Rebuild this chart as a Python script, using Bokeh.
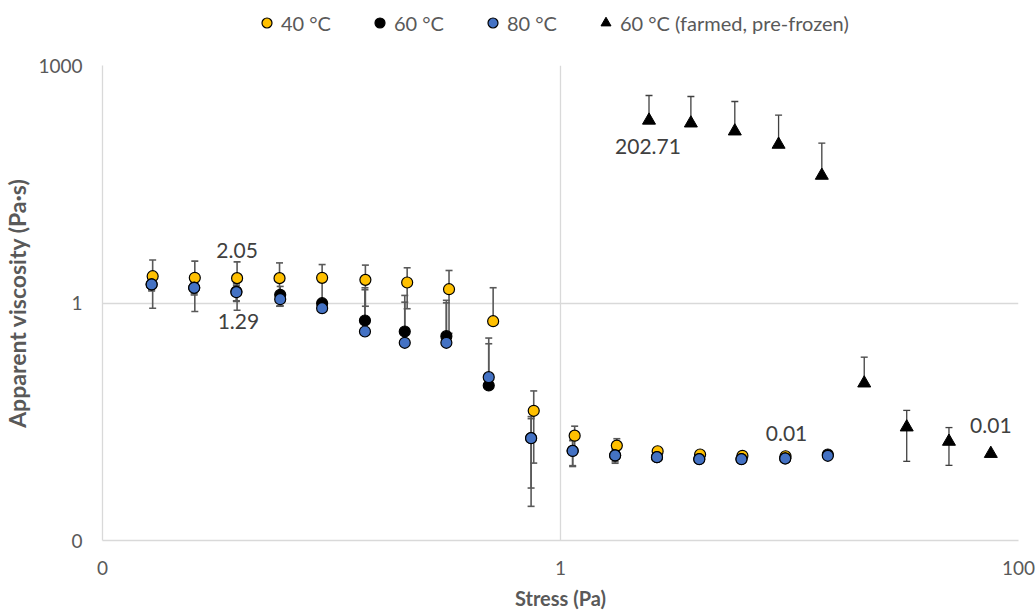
from bokeh.plotting import figure
from bokeh.layouts import column
from bokeh.models import (ColumnDataSource, Whisker, TeeHead, FixedTicker,
                          Legend, LegendItem, Range1d)
from bokeh.core.properties import value
from bokeh.embed import file_html
from bokeh.resources import INLINE

# ---------------- data ----------------
stress_40 = [0.01656, 0.0253, 0.0387, 0.0593, 0.091, 0.1406, 0.214, 0.326,
             0.508, 0.764, 1.153, 1.762, 2.656, 4.07, 6.23, 9.61]
visc_40 = [2.18, 2.08, 2.06, 2.06, 2.08, 1.96, 1.816, 1.494,
           0.589, 0.0435, 0.0211, 0.0158, 0.0134, 0.0122, 0.01175, 0.0116]
err_40 = [1.32, 1.3, 1.25, 1.15, 0.98, 1.05, 0.97, 1.08,
          0.97, 0.034, 0.0067, 0.0035, 0.0012, 0.0008, 0.0006, 0.0006]

stress_60_80 = [0.01639, 0.02514, 0.03843, 0.0597, 0.091, 0.140, 0.2089, 0.3174,
                0.486, 0.744, 1.13, 1.732, 2.638, 4.036, 6.17, 9.58, 14.7]
visc_60 = [1.72, 1.56, 1.397, 1.27, 0.994, 0.601, 0.4365, 0.381,
           0.0908, 0.0197, 0.0136, 0.0119, 0.0113, 0.0107, 0.0107, 0.0109, 0.0122]
err_60 = [0.3, 0.3, 0.35, 0.35, 0.1, 0.87, 0.81, 0.7,
          0.27, 0.017, 0.005, 0.002, 0.0008, 0.0005, 0.0005, 0.0005, 0.0005]
visc_80 = [1.714, 1.556, 1.369, 1.117, 0.86, 0.4365, 0.3144, 0.3144,
           0.1156, 0.0196, 0.01352, 0.01186, 0.01128, 0.01064, 0.01064, 0.01086, 0.01175]
err_80 = [0.25, 0.25, 0.3, 0.2, 0.1, 1.12, 0.71, 0.69,
          0.19, 0.015, 0.0047, 0.0024, 0.0008, 0.0005, 0.0005, 0.0005, 0.0005]

stress_frozen = [2.435, 3.71, 5.77, 8.96, 13.84, 21.2, 32.5, 49.7, 75.7]
visc_frozen = [202.71, 186.7, 148.0, 100.5, 40.8, 0.097, 0.027, 0.0178, 0.0125]
err_frozen = [215.0, 219.0, 203.0, 135.0, 63.6, 0.11, 0.017, 0.0089, 0.0]

series_names = ["40 °C", "60 °C", "80 °C", "60 °C (farmed, pre-frozen)"]

x_ticks = [0.01, 1, 100]
x_tick_labels = ["0", "1", "100"]
y_ticks = [0.001, 1, 1000]
y_tick_labels = ["0", "1", "1000"]

# data labels: text, series, point index
label_texts = ["2.05", "1.29", "202.71", "0.01", "0.01"]
label_series = ["40", "60", "frozen", "40", "frozen"]
label_index = [2, 2, 0, 15, 8]

# ---------------- styling ----------------
FONT = "Lato"
GREY = "#595959"
label_dx = [0, 2, -1, 1, 0]
label_dy = [-28, 30, 26, -23, -28]
marker_styles = [dict(marker="circle", size=11, fill_color="#FFC000", line_color="black", line_width=1.2),
                 dict(marker="circle", size=11, fill_color="black", line_color="black", line_width=1.2),
                 dict(marker="circle", size=11, fill_color="#4472C4", line_color="black", line_width=1.2),
                 dict(marker="triangle", size=13, fill_color="black", line_color="black", line_width=1)]

p = figure(width=1036, height=565, x_axis_type="log", y_axis_type="log",
           x_range=Range1d(0.01, 100), y_range=Range1d(0.001, 1000),
           output_backend="svg", toolbar_location=None,
           min_border_left=99, min_border_right=18, min_border_top=15,
           min_border_bottom=75)
p.outline_line_color = None
p.background_fill_color = "white"
p.border_fill_color = "white"

for ax, ticks, labels in ((p.xaxis[0], x_ticks, x_tick_labels),
                          (p.yaxis[0], y_ticks, y_tick_labels)):
    ax.ticker = FixedTicker(ticks=ticks, minor_ticks=[])
    ax.major_label_overrides = {float(t): l for t, l in zip(ticks, labels)}
    ax.axis_line_color = "#D9D9D9"
    ax.axis_line_width = 1.3
    ax.major_tick_line_color = None
    ax.minor_tick_line_color = None
    ax.major_tick_out = 0
    ax.major_tick_in = 0
    ax.major_label_text_font = FONT
    ax.major_label_text_font_size = "19px"
    ax.major_label_text_color = GREY
    ax.axis_label_text_font = FONT
    ax.axis_label_text_font_style = "bold"
    ax.axis_label_text_color = GREY

p.xaxis.axis_label = "Stress (Pa)"
p.yaxis.axis_label = "Apparent viscosity (Pa·s)"
p.xaxis.axis_label_text_font_size = "20px"
p.yaxis.axis_label_text_font_size = "23px"
p.xaxis.major_label_standoff = 20
p.xaxis.axis_label_standoff = 8
p.yaxis.major_label_standoff = 20
p.yaxis.axis_label_standoff = 4

p.xgrid.ticker = FixedTicker(ticks=x_ticks, minor_ticks=[])
p.ygrid.ticker = FixedTicker(ticks=y_ticks, minor_ticks=[])
for g in (p.xgrid[0], p.ygrid[0]):
    g.grid_line_color = "#D9D9D9"
    g.grid_line_width = 1.3


def add_errorbars(xs, ys, errs, color, width):
    full = dict(x=[], lo=[], hi=[])
    up = dict(x=[], lo=[], hi=[])
    for x, y, e in zip(xs, ys, errs):
        if e <= 0:
            continue
        d = full if y - e > 0 else up
        d["x"].append(x)
        d["lo"].append(y - e if y - e > 0 else y)
        d["hi"].append(y + e)
    p.add_layout(Whisker(source=ColumnDataSource(full), base="x", lower="lo",
                         upper="hi", dimension="height", line_color=color,
                         line_width=width,
                         upper_head=TeeHead(size=7, line_color=color, line_width=width),
                         lower_head=TeeHead(size=7, line_color=color, line_width=width)))
    p.add_layout(Whisker(source=ColumnDataSource(up), base="x", lower="lo",
                         upper="hi", dimension="height", line_color=color,
                         line_width=width,
                         upper_head=TeeHead(size=7, line_color=color, line_width=width),
                         lower_head=None))


add_errorbars(stress_40, visc_40, err_40, GREY, 1.6)
add_errorbars(stress_60_80, visc_60, err_60, GREY, 1.6)
add_errorbars(stress_60_80, visc_80, err_80, GREY, 1.6)
add_errorbars(stress_frozen, visc_frozen, err_frozen, "#404040", 1.3)

series_data = [(stress_40, visc_40), (stress_60_80, visc_60),
               (stress_60_80, visc_80), (stress_frozen, visc_frozen)]
for (xs, ys), st in zip(series_data, marker_styles):
    p.scatter(xs, ys, **st)

series_xy = {"40": series_data[0], "60": series_data[1],
             "80": series_data[2], "frozen": series_data[3]}
lab_src = ColumnDataSource(dict(
    x=[series_xy[s][0][i] for s, i in zip(label_series, label_index)],
    y=[series_xy[s][1][i] for s, i in zip(label_series, label_index)],
    text=label_texts, dx=label_dx, dy=label_dy))
p.text(x="x", y="y", text="text", x_offset="dx", y_offset="dy", source=lab_src,
       text_font=value(FONT), text_font_size="21px", text_color="#404040",
       text_align="center", text_baseline="middle")

# ---------------- legend strip above the plot ----------------
lg = figure(width=1036, height=50, x_range=Range1d(0, 1), y_range=Range1d(0, 1),
            output_backend="svg", toolbar_location=None,
            x_axis_location=None, y_axis_location=None,
            min_border_left=0, min_border_right=0, min_border_top=0,
            min_border_bottom=0)
lg.grid.visible = False
lg.outline_line_color = None
lg.border_fill_color = "white"
# one point each, placed outside the strip's visible range: only the legend glyph shows
leg_renderers = [lg.scatter(x=[5], y=[5], **st) for st in marker_styles]
legend = Legend(items=[LegendItem(label=n, renderers=[r])
                       for n, r in zip(series_names, leg_renderers)],
                orientation="horizontal", location=(152, 15),
                glyph_width=25, glyph_height=25, label_standoff=2, spacing=36,
                padding=0, margin=0, border_line_color=None,
                background_fill_alpha=0, label_text_font=FONT,
                label_text_font_size="20px", label_text_color=GREY)
lg.add_layout(legend, "center")

layout = column(lg, p, spacing=0)
open("out.html", "w").write(file_html(layout, INLINE))
